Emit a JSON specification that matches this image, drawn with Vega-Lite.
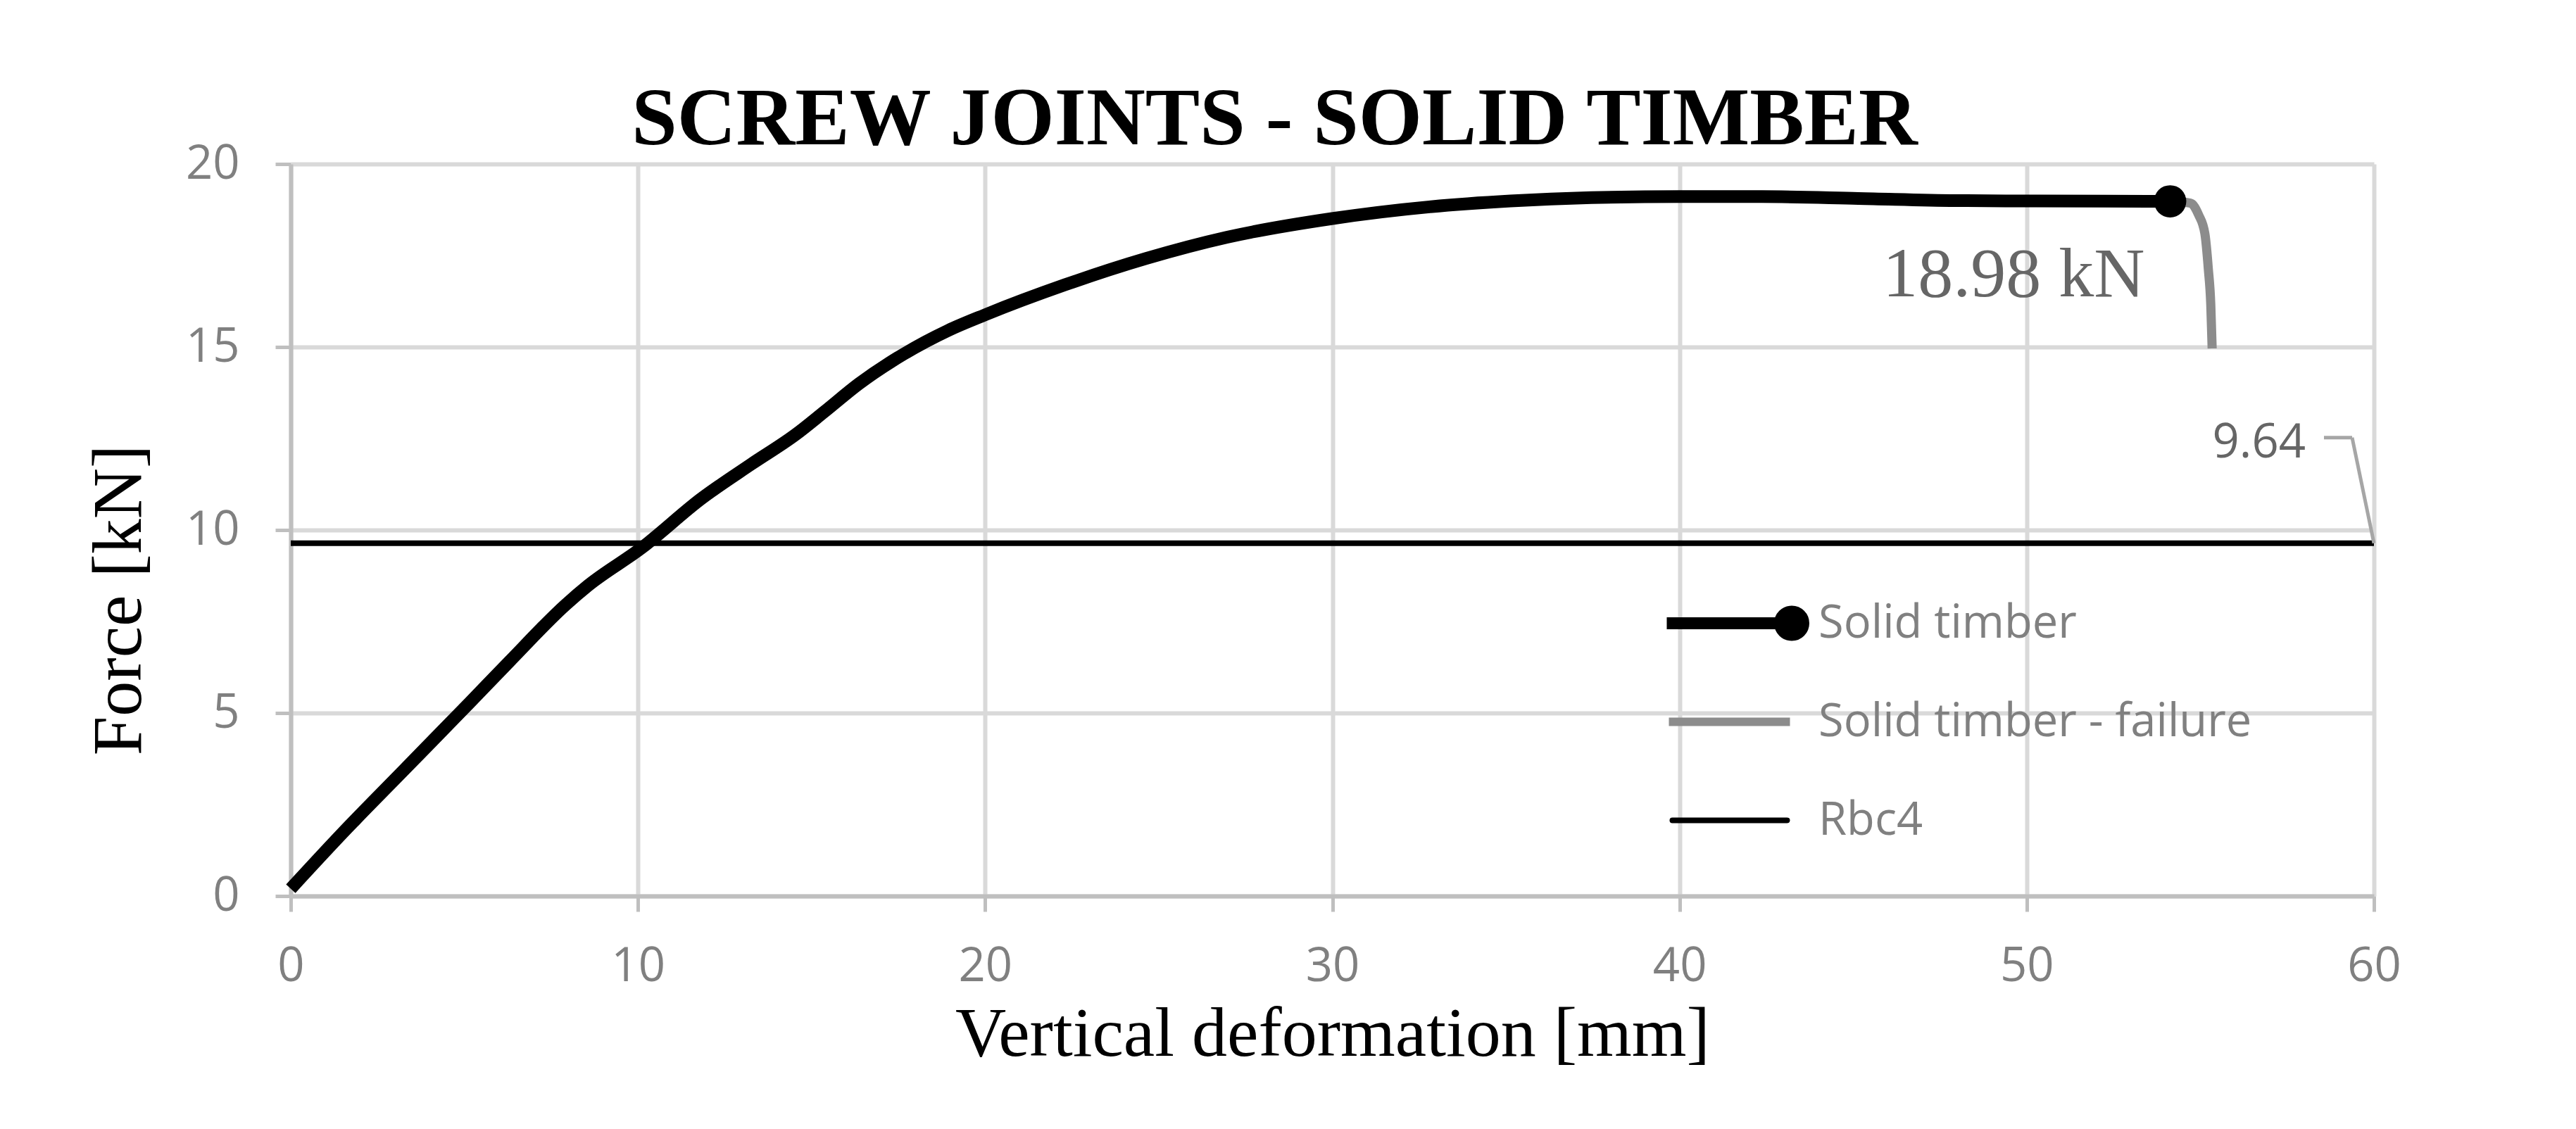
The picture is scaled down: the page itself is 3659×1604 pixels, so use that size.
{
  "$schema": "https://vega.github.io/schema/vega-lite/v6.json",
  "width": 2959,
  "height": 1040,
  "autosize": {"type": "none"},
  "padding": {"left": 413, "top": 233, "right": 287, "bottom": 331},
  "background": "white",
  "title": {
    "text": "SCREW JOINTS - SOLID TIMBER",
    "font": "Liberation Serif",
    "fontSize": 116,
    "fontWeight": "bold",
    "color": "black",
    "anchor": "middle",
    "frame": "group",
    "baseline": "alphabetic",
    "offset": 25,
    "dx": -82,
    "dy": 147
  },
  "config": {
    "view": {"stroke": null},
    "axis": {
      "gridColor": "#d9d9d9",
      "gridWidth": 6,
      "domainColor": "#bfbfbf",
      "domainWidth": 6,
      "tickColor": "#bfbfbf",
      "tickWidth": 5,
      "tickSize": 22,
      "labelFont": "Open Sans",
      "labelFontSize": 67,
      "labelColor": "#808080",
      "labelFlush": false,
      "titleFont": "Liberation Serif",
      "titleFontSize": 100,
      "titleFontWeight": "normal",
      "titleColor": "black"
    }
  },
  "datasets": {
    "curves": [
      {"series": "Solid timber", "x": 0, "y": 0.2},
      {"series": "Solid timber", "x": 1.45, "y": 1.68},
      {"series": "Solid timber", "x": 3.3, "y": 3.48},
      {"series": "Solid timber", "x": 5.15, "y": 5.28},
      {"series": "Solid timber", "x": 6.28, "y": 6.39},
      {"series": "Solid timber", "x": 7.92, "y": 7.96},
      {"series": "Solid timber", "x": 8.56, "y": 8.48},
      {"series": "Solid timber", "x": 10.12, "y": 9.52},
      {"series": "Solid timber", "x": 11.83, "y": 10.86},
      {"series": "Solid timber", "x": 13.25, "y": 11.79},
      {"series": "Solid timber", "x": 14.53, "y": 12.6},
      {"series": "Solid timber", "x": 15.38, "y": 13.24},
      {"series": "Solid timber", "x": 16.37, "y": 14.0},
      {"series": "Solid timber", "x": 17.66, "y": 14.81},
      {"series": "Solid timber", "x": 18.93, "y": 15.45},
      {"series": "Solid timber", "x": 20.0, "y": 15.88},
      {"series": "Solid timber", "x": 22.3, "y": 16.7},
      {"series": "Solid timber", "x": 24.64, "y": 17.42},
      {"series": "Solid timber", "x": 26.97, "y": 18.0},
      {"series": "Solid timber", "x": 30.0, "y": 18.51},
      {"series": "Solid timber", "x": 32.8, "y": 18.83},
      {"series": "Solid timber", "x": 35.13, "y": 18.99},
      {"series": "Solid timber", "x": 37.46, "y": 19.08},
      {"series": "Solid timber", "x": 40.0, "y": 19.11},
      {"series": "Solid timber", "x": 42.37, "y": 19.11},
      {"series": "Solid timber", "x": 45.15, "y": 19.06},
      {"series": "Solid timber", "x": 47.95, "y": 19.0},
      {"series": "Solid timber", "x": 50.28, "y": 18.99},
      {"series": "Solid timber", "x": 54.13, "y": 18.98},
      {"series": "Solid timber - failure", "x": 54.13, "y": 18.98},
      {"series": "Solid timber - failure", "x": 54.72, "y": 18.93},
      {"series": "Solid timber - failure", "x": 54.95, "y": 18.61},
      {"series": "Solid timber - failure", "x": 55.13, "y": 18.1},
      {"series": "Solid timber - failure", "x": 55.23, "y": 17.13},
      {"series": "Solid timber - failure", "x": 55.3, "y": 16.17},
      {"series": "Solid timber - failure", "x": 55.34, "y": 14.96},
      {"series": "Rbc4", "x": 0, "y": 9.64},
      {"series": "Rbc4", "x": 60, "y": 9.64}
    ],
    "peak": [{"x": 54.13, "y": 18.98, "label": "18.98 kN"}],
    "rbc": [{"x": 60, "y": 9.64, "label": "9.64"}]
  },
  "layer": [
    {
      "data": {"name": "curves"},
      "transform": [{"filter": "datum.series == 'Rbc4'"}],
      "mark": {"type": "line", "strokeWidth": 8, "strokeCap": "butt"},
      "encoding": {
        "x": {
          "field": "x", "type": "quantitative",
          "scale": {"domain": [0, 60], "nice": false},
          "axis": {"values": [0, 10, 20, 30, 40, 50, 60], "title": "Vertical deformation [mm]", "labelPadding": 45, "titlePadding": 14, "grid": true}
        },
        "y": {
          "field": "y", "type": "quantitative",
          "scale": {"domain": [0, 20], "nice": false},
          "axis": {"values": [0, 5, 10, 15, 20], "title": "Force [kN]", "labelPadding": 51, "titlePadding": 43, "titleY": 619, "grid": true}
        },
        "color": {
          "field": "series", "type": "nominal",
          "scale": {"domain": ["Solid timber", "Solid timber - failure", "Rbc4"], "range": ["#000000", "#8c8c8c", "#000000"]},
          "legend": {
            "title": null,
            "orient": "none",
            "legendX": 1947,
            "legendY": 620,
            "padding": 0,
            "gridAlign": "all",
            "symbolSize": 2500,
            "symbolType": "M-1,0H1",
            "labelFont": "Open Sans",
            "labelFontSize": 65,
            "labelColor": "#808080",
            "labelLimit": 2000,
            "labelOffset": 158,
            "rowPadding": 57,
            "encode": {
              "symbols": {
                "update": {
                  "shape": {"signal": "datum.value == 'Solid timber' ? 'M-1,0H5.76M6.76,0A0.66,0.66,0,1,1,5.44,0A0.66,0.66,0,1,1,6.76,0' : (datum.value == 'Rbc4' ? 'M-0.68,0H5.84' : 'M-0.88,0H6')"},
                  "fill": {"signal": "datum.value == 'Solid timber' ? '#000000' : 'transparent'"},
                  "strokeWidth": {"signal": "datum.value == 'Solid timber' ? 17 : (datum.value == 'Rbc4' ? 8 : 12)"},
                  "strokeCap": {"signal": "datum.value == 'Rbc4' ? 'round' : 'butt'"}
                }
              }
            }
          }
        }
      }
    },
    {
      "data": {"name": "curves"},
      "transform": [{"filter": "datum.series == 'Solid timber'"}],
      "mark": {"type": "line", "strokeWidth": 18, "interpolate": "monotone", "strokeCap": "butt", "strokeJoin": "round"},
      "encoding": {
        "x": {"field": "x", "type": "quantitative"},
        "y": {"field": "y", "type": "quantitative"},
        "color": {"field": "series", "type": "nominal"}
      }
    },
    {
      "data": {"name": "curves"},
      "transform": [{"filter": "datum.series == 'Solid timber - failure'"}],
      "mark": {"type": "line", "strokeWidth": 13, "interpolate": "monotone", "strokeCap": "butt", "strokeJoin": "round"},
      "encoding": {
        "x": {"field": "x", "type": "quantitative"},
        "y": {"field": "y", "type": "quantitative"},
        "color": {"field": "series", "type": "nominal"}
      }
    },
    {
      "data": {"name": "peak"},
      "mark": {"type": "point", "filled": true, "color": "#000000", "size": 2100, "opacity": 1},
      "encoding": {
        "x": {"field": "x", "type": "quantitative"},
        "y": {"field": "y", "type": "quantitative"}
      }
    },
    {
      "data": {"name": "peak"},
      "mark": {"type": "text", "font": "Liberation Serif", "fontSize": 100, "color": "#666666", "align": "right", "baseline": "alphabetic", "dx": -36, "dy": 135},
      "encoding": {
        "x": {"field": "x", "type": "quantitative"},
        "y": {"field": "y", "type": "quantitative"},
        "text": {"field": "label"}
      }
    },
    {
      "data": {"name": "rbc"},
      "mark": {"type": "rule", "color": "#a6a6a6", "strokeWidth": 5, "x2Offset": -31, "y2Offset": -150},
      "encoding": {
        "x": {"field": "x", "type": "quantitative"},
        "y": {"field": "y", "type": "quantitative"},
        "x2": {"field": "x"},
        "y2": {"field": "y"}
      }
    },
    {
      "data": {"name": "rbc"},
      "mark": {"type": "rule", "color": "#a6a6a6", "strokeWidth": 5, "xOffset": -31, "yOffset": -150, "x2Offset": -71, "y2Offset": -150},
      "encoding": {
        "x": {"field": "x", "type": "quantitative"},
        "y": {"field": "y", "type": "quantitative"},
        "x2": {"field": "x"},
        "y2": {"field": "y"}
      }
    },
    {
      "data": {"name": "rbc"},
      "mark": {"type": "text", "font": "Open Sans", "fontSize": 67, "color": "#666666", "align": "right", "baseline": "alphabetic", "dx": -97, "dy": -122},
      "encoding": {
        "x": {"field": "x", "type": "quantitative"},
        "y": {"field": "y", "type": "quantitative"},
        "text": {"field": "label"}
      }
    }
  ]
}
